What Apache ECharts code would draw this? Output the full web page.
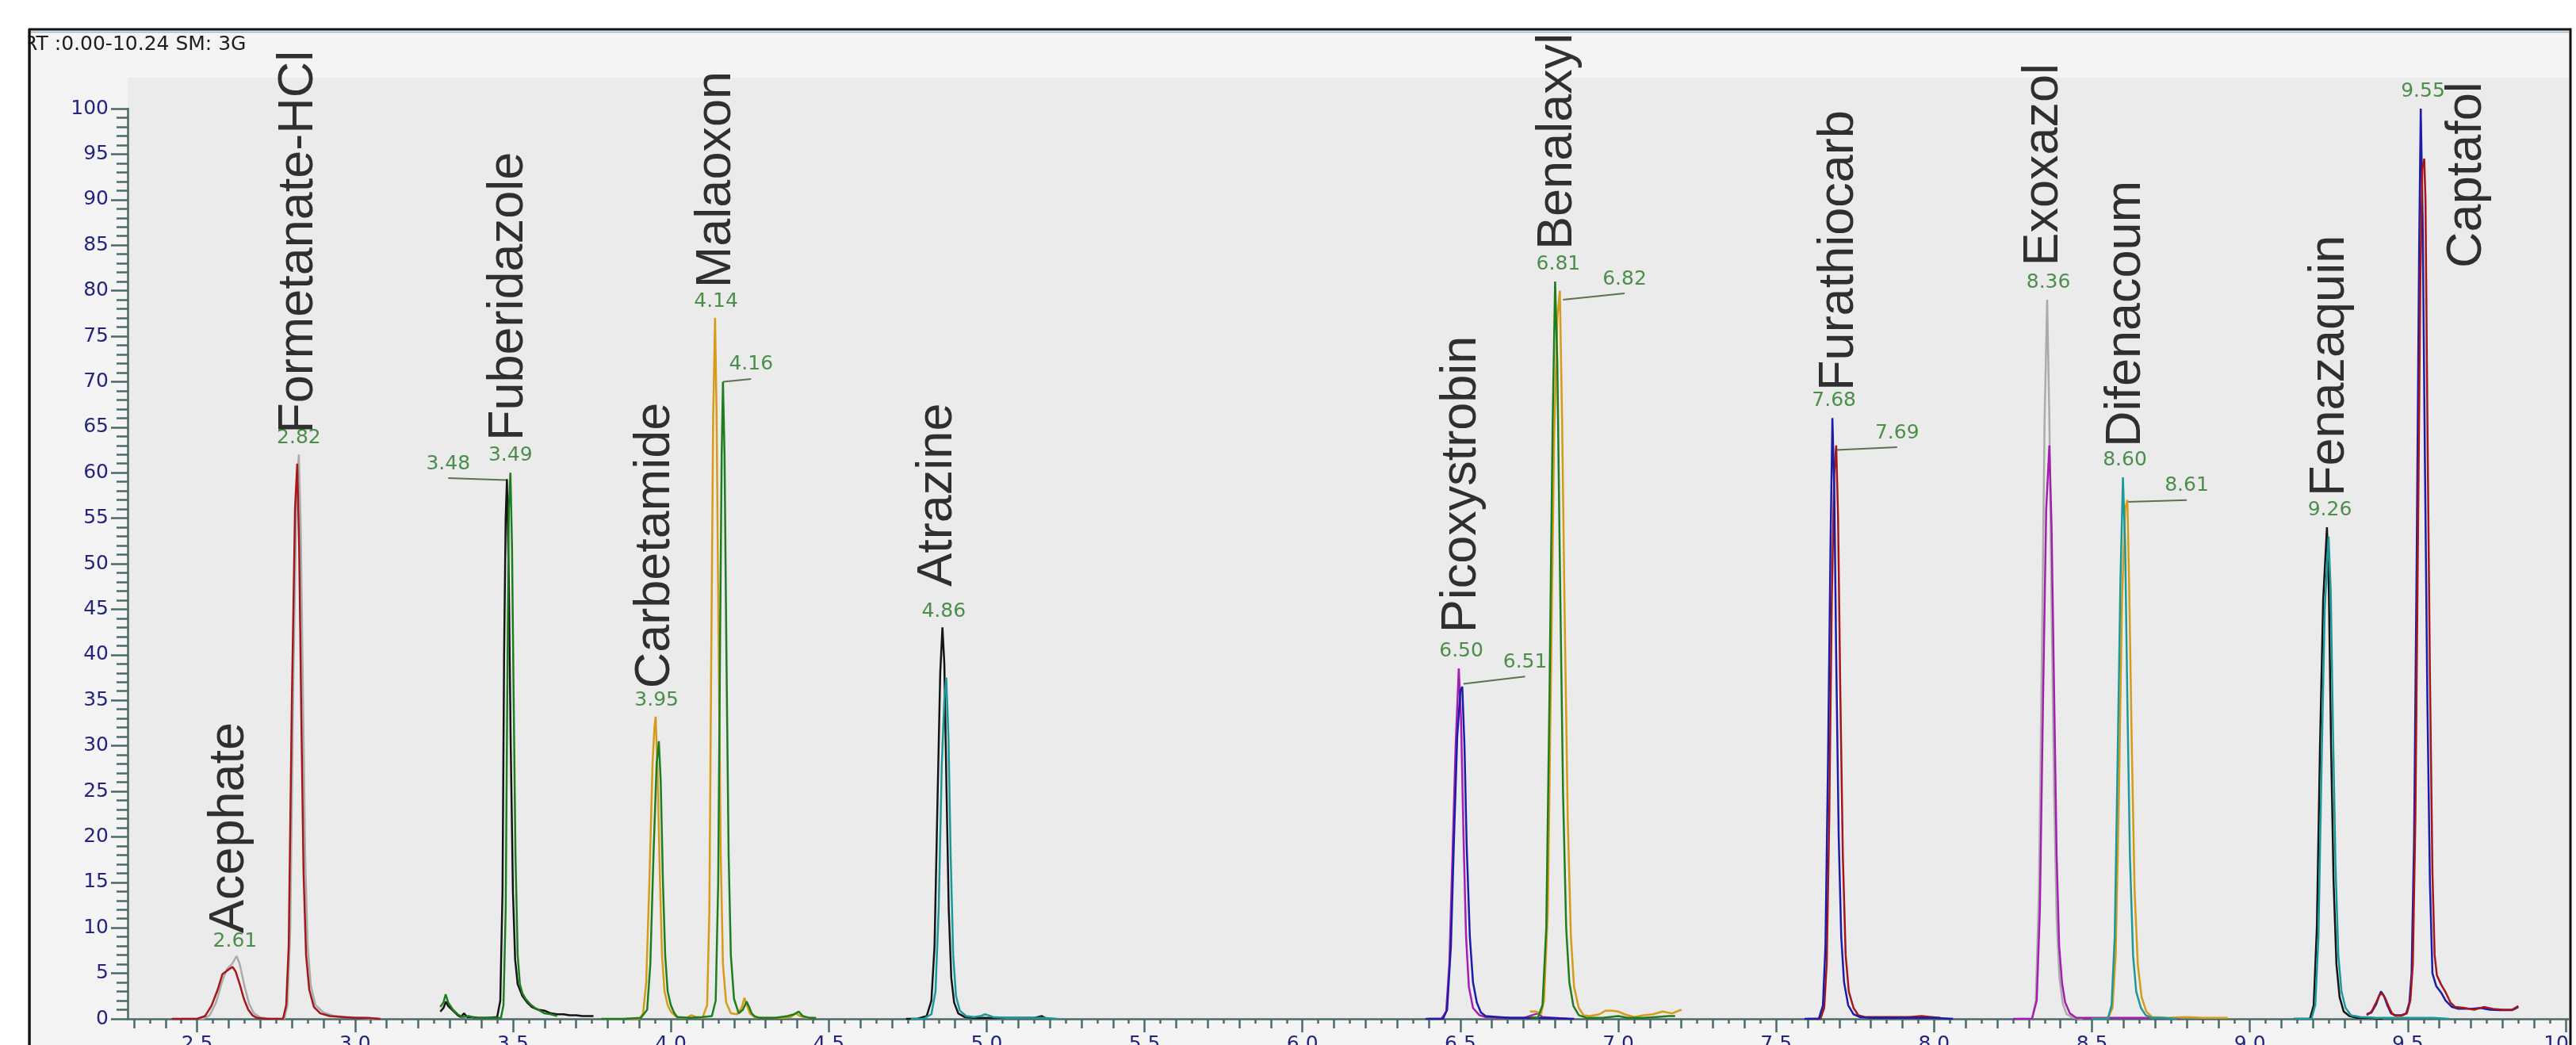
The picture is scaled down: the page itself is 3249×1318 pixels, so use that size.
<!DOCTYPE html>
<html lang="en">
<head>
<meta charset="utf-8">
<title>Chromatogram</title>
<style>
*{padding:0;margin:0;}
html,body{width:3249px;height:1318px;background:#fff;overflow:hidden;}
#chart{width:3249px;height:1318px;}
</style>
</head>
<body>
<div id="chart"></div>
<script src="https://cdn.jsdelivr.net/npm/echarts@6/dist/echarts.min.js"></script>
<script>
// [retention time (min), relative abundance (%)]
var redAcephateFormetanate = [[2.42,0],[2.50,0],[2.525,0.3],[2.545,1.4],[2.565,3.2],[2.58,4.9],[2.595,5.3],[2.612,5.7],[2.622,5.2],[2.635,3.8],[2.648,2.2],[2.662,1.0],[2.676,0.35],[2.69,0.1],[2.72,0],[2.772,0],[2.782,1.5],[2.79,8],[2.80,35],[2.81,56],[2.817,61],[2.823,52],[2.83,33],[2.837,16],[2.845,7],[2.855,3.2],[2.87,1.3],[2.89,0.6],[2.92,0.3],[2.96,0.2],[3.0,0.1],[3.04,0.1],[3.08,0]];
var grayAcephateFormetanate = [[2.45,0],[2.52,0],[2.54,0.4],[2.56,1.8],[2.58,4.2],[2.595,5.5],[2.61,6.0],[2.625,6.9],[2.635,6.0],[2.65,3.6],[2.665,1.6],[2.68,0.6],[2.70,0.15],[2.73,0],[2.776,0],[2.786,1.5],[2.795,10],[2.805,38],[2.815,58],[2.822,62],[2.828,54],[2.835,36],[2.842,18],[2.85,8],[2.86,3.6],[2.875,1.5],[2.9,0.7],[2.93,0.35],[2.97,0.2],[3.02,0.1],[3.07,0]];
var greenFuberidazole = [[3.27,1.3],[3.28,1.8],[3.287,2.7],[3.295,1.8],[3.31,1.0],[3.325,0.5],[3.34,0.2],[3.36,0.3],[3.38,0.1],[3.42,0.1],[3.462,0.1],[3.47,1.5],[3.477,12],[3.483,40],[3.487,56],[3.492,60],[3.497,52],[3.502,36],[3.508,18],[3.515,7],[3.522,3.8],[3.53,2.8],[3.54,2.2],[3.555,1.6],[3.57,1.2],[3.585,0.9],[3.60,0.6],[3.62,0.5],[3.64,0.3]];
var blackFuberidazole = [[3.27,0.8],[3.28,1.2],[3.288,1.9],[3.295,1.4],[3.31,0.9],[3.325,0.4],[3.335,0.2],[3.345,0.6],[3.355,0.2],[3.37,0.2],[3.39,0.1],[3.42,0.1],[3.45,0.2],[3.46,2],[3.467,14],[3.472,40],[3.477,55],[3.481,59.3],[3.487,48],[3.493,30],[3.50,14],[3.507,6.5],[3.515,3.8],[3.53,2.5],[3.545,1.8],[3.56,1.3],[3.58,1.0],[3.60,0.9],[3.62,0.6],[3.64,0.5],[3.66,0.5],[3.68,0.4],[3.70,0.4],[3.72,0.3],[3.755,0.3]];
var orangeCarbetamideMalaoxon = [[3.86,0],[3.90,0],[3.912,0.6],[3.922,4],[3.932,15],[3.942,28],[3.948,32],[3.952,33.2],[3.958,27],[3.965,16],[3.972,7],[3.98,3],[3.99,1.5],[4.00,0.8],[4.015,0.3],[4.03,0.1],[4.05,0.1],[4.065,0.4],[4.08,0.2],[4.10,0.1],[4.115,1.5],[4.122,12],[4.128,40],[4.134,66],[4.14,77],[4.145,66],[4.151,42],[4.158,18],[4.165,6],[4.175,1.8],[4.19,0.6],[4.21,0.5],[4.225,1.3],[4.233,2.3],[4.24,1.6],[4.25,0.6],[4.265,0.2],[4.30,0.1],[4.35,0.1],[4.38,0.2],[4.395,0.6],[4.41,0.3],[4.43,0.1],[4.45,0.1]];
var greenCarbetamideMalaoxon = [[3.78,0],[3.85,0],[3.905,0.1],[3.925,1],[3.935,6],[3.945,18],[3.955,28],[3.962,30.5],[3.968,26],[3.975,15],[3.982,7],[3.99,3],[4.0,1.5],[4.01,0.7],[4.02,0.2],[4.06,0.1],[4.10,0.2],[4.13,0.3],[4.142,2],[4.15,15],[4.156,42],[4.161,62],[4.165,70],[4.17,62],[4.176,40],[4.183,18],[4.19,7],[4.2,2.2],[4.215,0.6],[4.228,1.0],[4.24,1.9],[4.248,1.3],[4.256,0.6],[4.265,0.3],[4.28,0.1],[4.33,0.1],[4.37,0.3],[4.39,0.5],[4.405,0.8],[4.418,0.3],[4.44,0.1],[4.46,0.1]];
var blackAtrazine = [[4.745,0],[4.78,0],[4.81,0.3],[4.825,2],[4.835,8],[4.845,25],[4.853,38],[4.86,43],[4.866,39],[4.873,25],[4.88,12],[4.888,4.5],[4.897,1.8],[4.91,0.6],[4.93,0.2],[4.96,0.1],[5.0,0.1],[5.05,0.1],[5.10,0.1],[5.15,0.1],[5.175,0.3],[5.185,0.1]];
var tealAtrazine = [[4.76,0],[4.80,0],[4.825,0.5],[4.838,3],[4.848,12],[4.858,28],[4.866,35],[4.872,37.5],[4.879,31],[4.886,18],[4.894,7],[4.903,2.5],[4.915,0.9],[4.935,0.3],[4.96,0.2],[4.98,0.3],[4.995,0.5],[5.005,0.4],[5.02,0.2],[5.06,0.1],[5.12,0.1],[5.18,0.1],[5.225,0]];
var magentaPicoxystrobin = [[6.40,0],[6.44,0],[6.455,0.8],[6.465,6],[6.475,18],[6.485,30],[6.495,38.5],[6.502,33],[6.51,20],[6.518,9],[6.527,3.5],[6.54,1.2],[6.56,0.4],[6.58,0.2],[6.62,0.1],[6.70,0.1],[6.745,0.6],[6.76,0.2],[6.80,0.1],[6.84,0]];
var bluePicoxystrobin = [[6.39,0],[6.445,0],[6.458,1],[6.47,8],[6.48,20],[6.49,31],[6.5,36],[6.506,36.5],[6.513,30],[6.52,19],[6.53,9],[6.54,4],[6.552,1.8],[6.565,0.7],[6.58,0.3],[6.62,0.2],[6.66,0.1],[6.75,0.1],[6.86,0]];
var greenBenalaxyl = [[6.72,0.2],[6.745,0.1],[6.76,1.5],[6.772,10],[6.782,35],[6.792,65],[6.80,81],[6.807,72],[6.815,50],[6.825,25],[6.835,10],[6.845,4],[6.858,1.4],[6.875,0.4],[6.9,0.1],[6.95,0.1],[7.0,0.3],[7.03,0.1],[7.08,0.1],[7.12,0.2],[7.16,0.3],[7.18,0.3]];
var orangeBenalaxyl = [[6.72,0.8],[6.74,0.8],[6.755,0.5],[6.765,2],[6.777,12],[6.787,38],[6.797,64],[6.807,77],[6.815,80],[6.822,66],[6.83,45],[6.84,22],[6.85,9],[6.86,3.5],[6.875,1.2],[6.89,0.4],[6.91,0.3],[6.94,0.5],[6.96,0.9],[6.98,0.9],[7.0,0.8],[7.02,0.5],[7.05,0.2],[7.08,0.4],[7.11,0.5],[7.14,0.8],[7.17,0.6],[7.2,1.0]];
var blueFurathiocarb = [[7.59,0],[7.635,0],[7.648,1.5],[7.656,8],[7.664,28],[7.672,52],[7.678,66],[7.684,58],[7.69,40],[7.698,20],[7.706,9],[7.715,4],[7.728,1.5],[7.745,0.5],[7.765,0.2],[7.80,0.1],[7.9,0.1],[8.0,0.1],[8.06,0]];
var redFurathiocarb = [[7.60,0],[7.64,0],[7.652,1.2],[7.66,6],[7.668,22],[7.676,46],[7.684,60],[7.69,63],[7.696,55],[7.703,36],[7.711,18],[7.72,7],[7.73,3],[7.745,1.2],[7.76,0.4],[7.78,0.2],[7.85,0.2],[7.92,0.2],[7.96,0.3],[7.99,0.2],[8.02,0.1]];
var grayExoxazol = [[8.27,0],[8.31,0],[8.322,2],[8.332,14],[8.342,42],[8.35,66],[8.358,79],[8.365,66],[8.372,45],[8.38,25],[8.388,11],[8.397,4.5],[8.408,1.6],[8.42,0.5],[8.44,0.1],[8.47,0]];
var magentaExoxazol = [[8.25,0],[8.31,0],[8.325,2],[8.335,12],[8.345,35],[8.355,56],[8.365,63],[8.372,54],[8.38,36],[8.388,18],[8.396,8],[8.405,4],[8.415,1.8],[8.43,0.6],[8.45,0.1],[8.5,0.1],[8.56,0.1],[8.62,0.1],[8.7,0.1],[8.78,0]];
var tealDifenacoum = [[8.50,0],[8.55,0],[8.562,1.5],[8.572,9],[8.58,26],[8.59,48],[8.598,59.5],[8.605,52],[8.612,35],[8.62,18],[8.63,7],[8.64,3],[8.655,1.2],[8.67,0.4],[8.69,0.1],[8.72,0.1],[8.77,0]];
var orangeDifenacoum = [[8.50,0],[8.55,0],[8.565,1.2],[8.575,7],[8.585,24],[8.595,46],[8.605,56],[8.612,57],[8.618,47],[8.626,30],[8.635,14],[8.645,6],[8.657,2.4],[8.672,0.8],[8.69,0.2],[8.74,0.1],[8.8,0.2],[8.85,0.1],[8.9,0.1],[8.93,0.1]];
var blackFenazaquin = [[9.14,0],[9.19,0],[9.202,1.5],[9.212,10],[9.222,30],[9.232,46],[9.244,54],[9.25,47],[9.257,30],[9.265,15],[9.274,6],[9.284,2.4],[9.297,0.8],[9.315,0.3],[9.34,0.1],[9.38,0.1],[9.42,0]];
var tealFenazaquin = [[9.14,0],[9.195,0],[9.207,1.5],[9.217,9],[9.227,28],[9.237,45],[9.249,53],[9.256,47],[9.263,32],[9.271,17],[9.28,7],[9.29,3],[9.303,1.2],[9.32,0.4],[9.35,0.2],[9.40,0.1],[9.5,0.1],[9.58,0.1],[9.63,0]];
var blueCaptafol = [[9.37,0.5],[9.385,0.7],[9.40,1.6],[9.41,2.6],[9.415,3.0],[9.425,2.5],[9.435,1.5],[9.447,0.6],[9.46,0.4],[9.48,0.4],[9.495,0.6],[9.505,1.8],[9.512,5],[9.52,20],[9.528,50],[9.536,85],[9.541,100],[9.547,88],[9.554,62],[9.562,35],[9.57,15],[9.578,5],[9.59,3.6],[9.607,2.8],[9.62,2.0],[9.64,1.3],[9.66,1.1],[9.70,1.1],[9.73,1.2],[9.76,1.0],[9.79,0.95],[9.83,0.95],[9.85,1.3]];
var redCaptafol = [[9.37,0.4],[9.385,0.8],[9.40,1.8],[9.41,2.6],[9.418,2.8],[9.428,2.3],[9.44,1.3],[9.45,0.6],[9.46,0.35],[9.48,0.35],[9.497,0.6],[9.508,2],[9.516,6],[9.524,22],[9.532,52],[9.54,82],[9.546,93.5],[9.552,94.5],[9.556,90],[9.562,66],[9.57,38],[9.578,16],[9.585,7],[9.592,4.8],[9.605,3.8],[9.62,2.9],[9.635,1.8],[9.65,1.3],[9.68,1.2],[9.71,1.0],[9.74,1.3],[9.77,1.1],[9.80,1.0],[9.83,1.0],[9.85,1.4]];

// [rt, abundance at label foot, text]
var rtLabels = [[2.62,6.9,'2.61'],[2.822,62.2,'2.82'],[3.295,59.4,'3.48'],[3.492,60.3,'3.49'],[3.955,33.4,'3.95'],[4.143,77.2,'4.14'],[4.254,70.3,'4.16'],[4.864,43.2,'4.86'],[6.503,38.8,'6.50'],[6.705,37.6,'6.51'],[6.81,81.3,'6.81'],[7.02,79.7,'6.82'],[7.683,66.3,'7.68'],[7.883,62.8,'7.69'],[8.362,79.3,'8.36'],[8.604,59.8,'8.60'],[8.80,57.0,'8.61'],[9.253,54.3,'9.26'],[9.548,100.3,'9.55']];
// [x1, y1, x2, y2]
var leaderLines = [[3.295,59.4,3.478,59.2],[4.166,70.0,4.254,70.3],[6.51,36.8,6.705,37.6],[6.825,79.0,7.02,79.7],[7.69,62.5,7.883,62.8],[8.612,56.8,8.80,57.0]];
// [rt, abundance at text start, compound]
var compoundLabels = [[2.603,9.4,'Acephate'],[2.821,64.3,'Formetanate-HCl'],[3.486,63.5,'Fuberidazole'],[3.95,36.3,'Carbetamide'],[4.144,80.3,'Malaoxon'],[4.844,47.5,'Atrazine'],[6.505,42.4,'Picoxystrobin'],[6.807,84.5,'Benalaxyl'],[7.70,69.0,'Furathiocarb'],[8.348,82.7,'Exoxazol'],[8.608,62.8,'Difenacoum'],[9.253,57.4,'Fenazaquin'],[9.687,82.5,'Captafol']];

var xMajorTicks = [2.5,3.0,3.5,4.0,4.5,5.0,5.5,6.0,6.5,7.0,7.5,8.0,8.5,9.0,9.5,10.0];
var xTenthTicks = [], xTwentiethTicks = [];
for (var i = 23; i <= 100; i++) xTenthTicks.push(i / 10);
for (var j = 46; j <= 200; j++) xTwentiethTicks.push(j / 20);

var RED = '#a3171d', GRAY = '#ababab', BLACK = '#141414', GREEN = '#1e7d1e',
    ORANGE = '#d69b18', TEAL = '#1b9999', BLUE = '#1c1ca8', MAGENTA = '#a41fb1';
var AXIS = '#4b6969', NAVY = '#24257e';

var traces = [
  [grayAcephateFormetanate, GRAY], [redAcephateFormetanate, RED],
  [blackFuberidazole, BLACK], [greenFuberidazole, GREEN],
  [orangeCarbetamideMalaoxon, ORANGE], [greenCarbetamideMalaoxon, GREEN],
  [blackAtrazine, BLACK], [tealAtrazine, TEAL],
  [magentaPicoxystrobin, MAGENTA], [bluePicoxystrobin, BLUE],
  [orangeBenalaxyl, ORANGE], [greenBenalaxyl, GREEN],
  [redFurathiocarb, RED], [blueFurathiocarb, BLUE],
  [grayExoxazol, GRAY], [magentaExoxazol, MAGENTA],
  [orangeDifenacoum, ORANGE], [tealDifenacoum, TEAL],
  [blackFenazaquin, BLACK], [tealFenazaquin, TEAL],
  [blueCaptafol, BLUE], [redCaptafol, RED]
];

var series = [];
traces.forEach(function (t) {
  series.push({
    type: 'line', data: t[0], symbol: 'none', z: 3,
    lineStyle: {color: t[1], width: 2.5}
  });
});
leaderLines.forEach(function (l) {
  series.push({
    type: 'line', data: [[l[0], l[1]], [l[2], l[3]]], symbol: 'none', z: 2,
    lineStyle: {color: '#5b7250', width: 2}
  });
});
series.push({
  type: 'scatter', data: rtLabels, symbolSize: 1, clip: false, z: 5,
  itemStyle: {color: 'rgba(0,0,0,0)'},
  label: {
    show: true, position: 'top', distance: 5,
    formatter: function (p) { return p.value[2]; },
    color: '#237523', fontSize: 25, fontFamily: 'DejaVu Sans'
  }
});
series.push({
  type: 'scatter', data: compoundLabels, symbolSize: 1, clip: false, z: 5,
  itemStyle: {color: 'rgba(0,0,0,0)'},
  label: {
    show: true, position: 'inside', rotate: 90, align: 'left', verticalAlign: 'middle',
    formatter: function (p) { return p.value[2]; },
    color: '#000', fontSize: 63, fontFamily: 'Liberation Sans'
  }
});

var xRange = {min: 2.28, max: 10.01};
var chart = echarts.init(document.getElementById('chart'));
chart.setOption({
  animation: false,
  backgroundColor: '#fff',
  graphic: [
    {type: 'rect', z: -5, shape: {x: 37, y: 37, width: 3205, height: 1320},
      style: {fill: '#f4f4f4', stroke: '#111', lineWidth: 3}},
    {type: 'line', z: -4, shape: {x1: 39, y1: 40.5, x2: 3240, y2: 40.5},
      style: {stroke: '#9db2d2', lineWidth: 1.5}},
    {type: 'rect', z: -4, shape: {x: 161, y: 98, width: 3079, height: 1187},
      style: {fill: '#ebebeb'}},
    {type: 'text', z: 1, style: {text: 'RT :0.00-10.24 SM: 3G', x: 30, y: 44,
      font: '25px "DejaVu Sans"', fill: '#1e1e1e', verticalAlign: 'top'}},
    {type: 'rect', z: 2, shape: {x: 0, y: 0, width: 35.5, height: 1318}, style: {fill: '#fff'}},
    {type: 'line', z: 2, shape: {x1: 37, y1: 37, x2: 37, y2: 1318}, style: {stroke: '#111', lineWidth: 3}}
  ],
  grid: {left: 161, right: 9, top: 137, bottom: 33, containLabel: false, outerBoundsMode: 'none'},
  xAxis: [
    {type: 'value', min: xRange.min, max: xRange.max, position: 'bottom',
      axisLine: {show: true, lineStyle: {color: AXIS, width: 2.5}},
      axisTick: {show: true, length: 17, customValues: xMajorTicks, lineStyle: {color: AXIS, width: 2.5}},
      axisLabel: {customValues: xMajorTicks, margin: 20, color: NAVY, fontSize: 25, fontFamily: 'DejaVu Sans',
        formatter: function (v) { return v.toFixed(1); }},
      splitLine: {show: false}},
    {type: 'value', min: xRange.min, max: xRange.max, position: 'bottom',
      axisLine: {show: false},
      axisTick: {show: true, length: 12, customValues: xTenthTicks, lineStyle: {color: AXIS, width: 2.5}},
      axisLabel: {show: false}, splitLine: {show: false}},
    {type: 'value', min: xRange.min, max: xRange.max, position: 'bottom',
      axisLine: {show: false},
      axisTick: {show: true, length: 6, customValues: xTwentiethTicks, lineStyle: {color: AXIS, width: 2.5}},
      axisLabel: {show: false}, splitLine: {show: false}}
  ],
  yAxis: {
    type: 'value', min: 0, max: 100, interval: 5,
    axisLine: {show: true, lineStyle: {color: AXIS, width: 2.5}},
    axisTick: {show: true, length: 21, lineStyle: {color: AXIS, width: 2.5}},
    minorTick: {show: true, splitNumber: 5, length: 14, lineStyle: {color: AXIS, width: 2.5}},
    axisLabel: {margin: 24, color: NAVY, fontSize: 25, fontFamily: 'DejaVu Sans'},
    splitLine: {show: false}
  },
  series: series
});
</script>
</body>
</html>
